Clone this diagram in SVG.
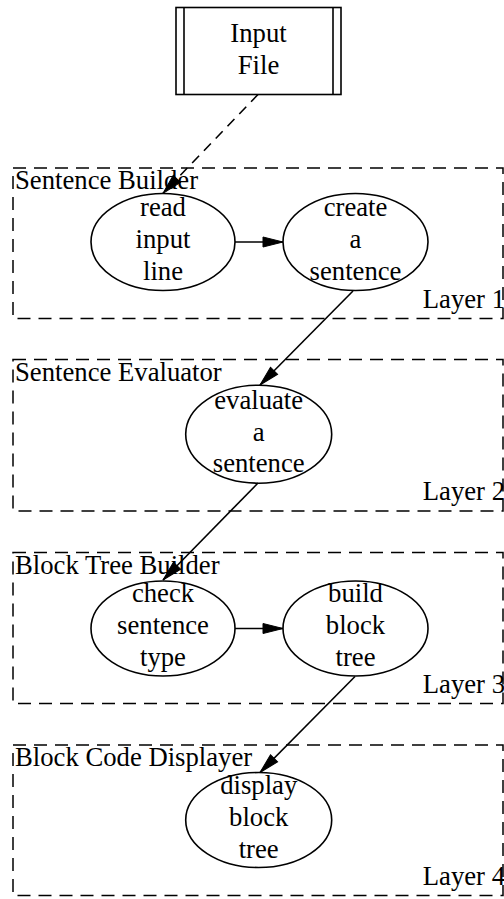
<svg xmlns="http://www.w3.org/2000/svg" width="504" height="899" viewBox="0 0 504 899">
<style>
text{font-family:"Liberation Serif","Times New Roman",serif;font-size:26.7px;fill:#000}
.c{text-anchor:middle}
.e{text-anchor:end}
.cl{fill:none;stroke:#000;stroke-width:1.5;stroke-dasharray:13 8}
.n{fill:#fff;stroke:#000;stroke-width:1.6}
.ed{fill:none;stroke:#000;stroke-width:1.6}
.dash{stroke-dasharray:10 7}
</style>
<defs>
<marker id="ah" markerUnits="userSpaceOnUse" markerWidth="22" markerHeight="12" refX="20" refY="5" orient="auto" overflow="visible">
<path d="M0,0 L20,5 L0,10 z" fill="#000" stroke="#000" stroke-width="1"/>
</marker>
</defs>
<rect width="504" height="899" fill="#fff"/>

<g id="cluster1">
<rect class="cl" x="13" y="168" width="490" height="150.5"/>
<text x="15" y="189">Sentence Builder</text>
<text class="e" x="505" y="308">Layer 1</text>
</g>
<g id="cluster2">
<rect class="cl" x="13" y="359.5" width="490" height="151.5"/>
<text x="15" y="380.5">Sentence Evaluator</text>
<text class="e" x="505" y="500">Layer 2</text>
</g>
<g id="cluster3">
<rect class="cl" x="13" y="552.5" width="490" height="151"/>
<text x="15" y="573.5">Block Tree Builder</text>
<text class="e" x="505" y="693">Layer 3</text>
</g>
<g id="cluster4">
<rect class="cl" x="13" y="745" width="490" height="150.5"/>
<text x="15" y="766">Block Code Displayer</text>
<text class="e" x="505" y="885">Layer 4</text>
</g>

<g id="connectors">
<path class="ed dash" d="M258,94.5 L163,193.3" marker-end="url(#ah)"/>
<path class="ed" d="M235,242 L283,242" marker-end="url(#ah)"/>
<path class="ed" d="M353,291 L260,385" marker-end="url(#ah)"/>
<path class="ed" d="M258,483 L163,580" marker-end="url(#ah)"/>
<path class="ed" d="M235,628.5 L283,628.5" marker-end="url(#ah)"/>
<path class="ed" d="M355,676.5 L260,772.5" marker-end="url(#ah)"/>
</g>

<g id="input_file">
<rect class="n" x="176" y="7.5" width="165" height="87"/>
<line class="ed" x1="184" y1="7.5" x2="184" y2="94.5"/>
<line class="ed" x1="333" y1="7.5" x2="333" y2="94.5"/>
<text class="c" x="258.5" y="42">Input</text>
<text class="c" x="258.5" y="74">File</text>
</g>

<g id="read_input_line">
<ellipse class="n" cx="163" cy="242" rx="72" ry="48.5" fill-opacity="0"/>
<text class="c" x="163" y="216">read</text>
<text class="c" x="163" y="248">input</text>
<text class="c" x="163" y="280">line</text>
</g>
<g id="create_a_sentence">
<ellipse class="n" cx="355.5" cy="242" rx="72.5" ry="48.5" fill-opacity="0"/>
<text class="c" x="355.5" y="216">create</text>
<text class="c" x="355.5" y="248">a</text>
<text class="c" x="355.5" y="280">sentence</text>
</g>
<g id="evaluate_a_sentence">
<ellipse class="n" cx="258.7" cy="434.2" rx="73" ry="49" fill-opacity="0"/>
<text class="c" x="258.7" y="408.5">evaluate</text>
<text class="c" x="258.7" y="440.5">a</text>
<text class="c" x="258.7" y="472">sentence</text>
</g>
<g id="check_sentence_type">
<ellipse class="n" cx="163" cy="628.5" rx="72" ry="47.5" fill-opacity="0"/>
<text class="c" x="163" y="602">check</text>
<text class="c" x="163" y="634">sentence</text>
<text class="c" x="163" y="666">type</text>
</g>
<g id="build_block_tree">
<ellipse class="n" cx="355.5" cy="628.5" rx="72.5" ry="47.5" fill-opacity="0"/>
<text class="c" x="355.5" y="602">build</text>
<text class="c" x="355.5" y="634">block</text>
<text class="c" x="355.5" y="666">tree</text>
</g>
<g id="display_block_tree">
<ellipse class="n" cx="258.7" cy="820" rx="73" ry="47.5" fill-opacity="0"/>
<text class="c" x="258.7" y="794">display</text>
<text class="c" x="258.7" y="826">block</text>
<text class="c" x="258.7" y="858">tree</text>
</g>
</svg>
